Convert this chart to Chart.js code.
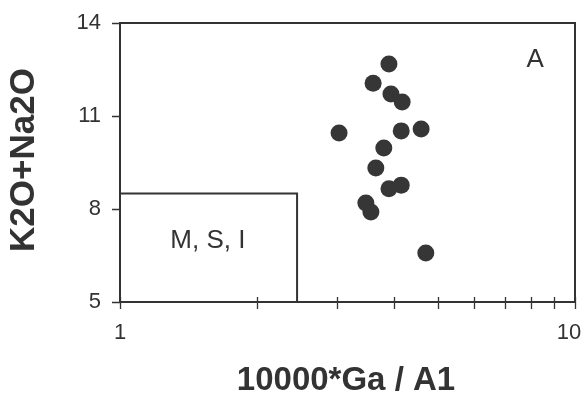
<!DOCTYPE html>
<html>
<head>
<meta charset="utf-8">
<script src="https://cdn.jsdelivr.net/npm/chart.js"></script>
<style>
  html, body { margin: 0; padding: 0; background: #fff; }
  #wrap { width: 586px; height: 397px; }
</style>
</head>
<body>
<div id="wrap"><canvas id="plot"></canvas></div>
<script>
// samples: 10000*Ga/Al vs total alkalis
const gaAl = [3.90, 3.60, 3.94, 4.17, 3.03, 4.15, 4.59, 3.80, 3.65, 3.90, 4.15, 3.47, 3.56, 4.70];
const alkalis = [12.68, 12.06, 11.71, 11.45, 10.45, 10.52, 10.58, 9.97, 9.32, 8.65, 8.77, 8.19, 7.90, 6.58];

// M, S, I field boundary
const fieldX = [1, 2.45, 2.45];
const fieldY = [8.5, 8.5, 5];

const xTicks = [1, 2, 3, 4, 5, 6, 7, 8, 9, 10];
const xLabels = [1, 10];
const yTicks = [5, 8, 11, 14];

const INK = '#333';
const FONT = '"Liberation Sans", Arial, Helvetica, sans-serif';

const axesPlugin = {
  id: 'axes',
  afterDraw(chart) {
    const { ctx, chartArea: a, scales: { x, y } } = chart;
    ctx.save();
    ctx.strokeStyle = INK;
    ctx.fillStyle = INK;

    // plot frame
    ctx.lineWidth = 2;
    ctx.strokeRect(a.left, a.top, a.right - a.left, a.bottom - a.top);

    // tick marks
    ctx.lineWidth = 1.3;
    ctx.beginPath();
    xTicks.forEach(v => {
      const px = Math.round(x.getPixelForValue(v)) + 0.5;
      ctx.moveTo(px, a.bottom - 5);
      ctx.lineTo(px, a.bottom + 7);
    });
    yTicks.forEach(v => {
      const py = Math.round(y.getPixelForValue(v)) + 0.5;
      ctx.moveTo(a.left - 8, py);
      ctx.lineTo(a.left, py);
    });
    ctx.stroke();

    // tick labels
    ctx.font = '22px ' + FONT;
    ctx.textBaseline = 'middle';
    ctx.textAlign = 'right';
    yTicks.forEach(v => ctx.fillText(String(v), a.left - 19, y.getPixelForValue(v)));
    ctx.textAlign = 'center';
    xLabels.forEach(v => {
      let px = x.getPixelForValue(v);
      if (v === 10) px -= 6;
      ctx.fillText(String(v), px, a.bottom + 31);
    });

    // axis titles
    ctx.font = 'bold 33px ' + FONT;
    ctx.fillText('10000*Ga / A1', 346, 381);
    ctx.save();
    ctx.translate(24, 160);
    ctx.rotate(-Math.PI / 2);
    ctx.font = 'bold 35px ' + FONT;
    ctx.fillText('K2O+Na2O', 0, 0);
    ctx.restore();

    // field labels
    ctx.font = '26px ' + FONT;
    ctx.fillText('A', x.getPixelForValue(8.17), y.getPixelForValue(12.8));
    ctx.fillText('M, S, I', x.getPixelForValue(1.56), y.getPixelForValue(6.98));
    ctx.restore();
  }
};

new Chart(document.getElementById('plot'), {
  type: 'scatter',
  data: {
    datasets: [
      {
        label: 'samples',
        data: gaAl.map((v, i) => ({ x: v, y: alkalis[i] })),
        backgroundColor: '#363636',
        borderWidth: 0,
        pointRadius: 8.5
      },
      {
        label: 'M, S, I',
        data: fieldX.map((v, i) => ({ x: v, y: fieldY[i] })),
        showLine: true,
        borderColor: INK,
        borderWidth: 2,
        pointRadius: 0,
        fill: false
      }
    ]
  },
  options: {
    responsive: true,
    maintainAspectRatio: false,
    animation: false,
    layout: { padding: { top: 23, right: 11, left: 0, bottom: 0 } },
    plugins: { legend: { display: false }, tooltip: { enabled: false } },
    scales: {
      x: {
        type: 'logarithmic',
        min: 1,
        max: 10,
        grid: { display: false },
        border: { display: false },
        ticks: { display: false },
        afterFit: s => { s.height = 95; }
      },
      y: {
        min: 5,
        max: 14,
        grid: { display: false },
        border: { display: false },
        ticks: { display: false },
        afterFit: s => { s.width = 120; }
      }
    }
  },
  plugins: [axesPlugin]
});
</script>
</body>
</html>
